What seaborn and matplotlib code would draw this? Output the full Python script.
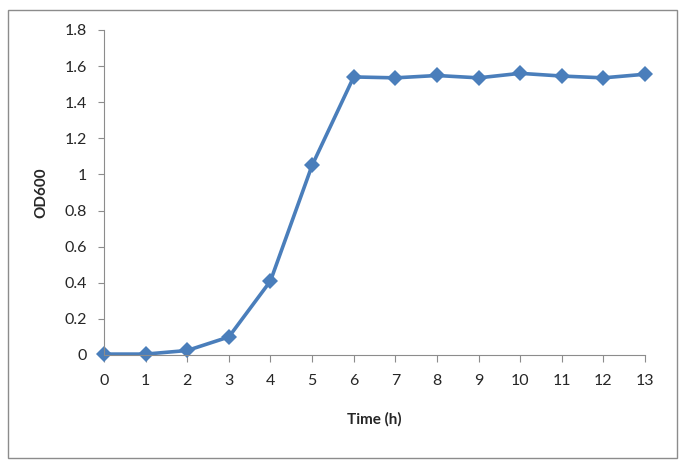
import numpy as np
import matplotlib
matplotlib.use("Agg")
import matplotlib.pyplot as plt
import pandas as pd
import seaborn as sns
from matplotlib.patches import Rectangle

# growth curve data
time_h = [0, 1, 2, 3, 4, 5, 6, 7, 8, 9, 10, 11, 12, 13]
od600 = [0.005, 0.005, 0.025, 0.10, 0.41, 1.05, 1.54, 1.535, 1.548, 1.535,
         1.56, 1.545, 1.535, 1.555]
y_ticks = [0, 0.2, 0.4, 0.6, 0.8, 1, 1.2, 1.4, 1.6, 1.8]
y_labels = ['0', '0.2', '0.4', '0.6', '0.8', '1', '1.2', '1.4', '1.6', '1.8']

df = pd.DataFrame({'Time (h)': time_h, 'OD600': od600})

sns.set_style('white')
plt.rcParams['font.family'] = ['Lato', 'DejaVu Sans']

fig = plt.figure(figsize=(6.85, 4.66), dpi=100)
ax = fig.add_axes([104/685, 1 - 355/466, 541/685, 325/466])

sns.lineplot(data=df, x='Time (h)', y='OD600', ax=ax, color='#4A7EBB',
             linewidth=2.6, marker='D', markersize=8.5, markeredgewidth=0,
             clip_on=False)

ax.set_xlim(0, 13)
ax.set_ylim(0, 1.8)
ax.set_xticks(time_h)
ax.set_yticks(y_ticks)
ax.set_yticklabels(y_labels)

for s in ['top', 'right']:
    ax.spines[s].set_visible(False)
for s in ['left', 'bottom']:
    ax.spines[s].set_color('#8c8c8c')
    ax.spines[s].set_linewidth(0.8)

ax.tick_params(axis='x', direction='out', length=5, width=0.8, color='#8c8c8c',
               labelsize=11.5, pad=9, bottom=True)
ax.tick_params(axis='y', direction='out', length=4, width=0.8, color='#8c8c8c',
               labelsize=11.5, pad=8, left=True)

ax.set_xlabel('Time (h)', fontsize=11, fontweight='bold', labelpad=17)
ax.set_ylabel('OD600', fontsize=11, fontweight='bold', labelpad=12)

# outer chart frame
fig.patches.append(Rectangle((8/685, 1 - 458/466), 669/685, 448/466,
                             transform=fig.transFigure, fill=False,
                             edgecolor='#8c8c8c', linewidth=1))

fig.savefig('out.png', dpi=100)
